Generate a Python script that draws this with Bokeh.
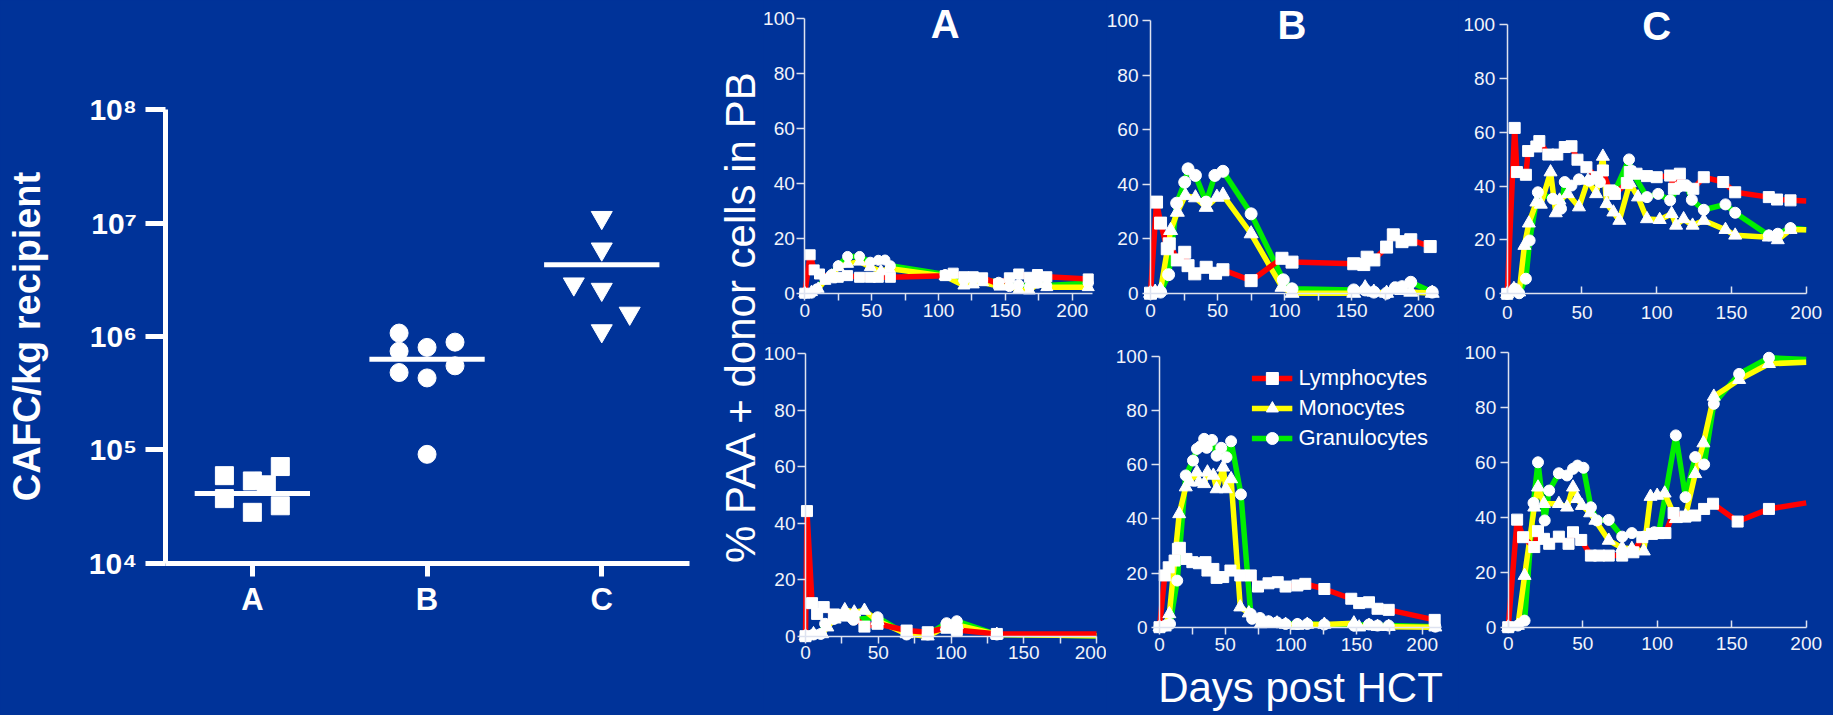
import math
from bokeh.plotting import figure
from bokeh.layouts import row, column
from bokeh.models import (FixedTicker, Label, Legend, LegendItem, Range1d,
                          GlobalInlineStyleSheet)
from bokeh.embed import file_html
from bokeh.resources import INLINE

BG = "#003399"
FONT = "Liberation Sans"
AXC = "#DDE2F0"
TXT = "#F2F4FA"
RED, YEL, GRN = "#FF0000", "#FFFF00", "#00EE00"

# ---------------- left panel data (CAFC/kg recipient) ----------------
groups = ["A", "B", "C"]
cafc_A = [5.9e4, 5.3e4, 4.9e4, 7.1e4, 3.7e4, 2.8e4, 3.2e4]
cafc_B = [1.07e6, 7.4e5, 8.0e5, 8.9e5, 4.8e5, 4.3e5, 5.5e5, 9.1e4]
cafc_C = [1.12e7, 5.9e6, 2.9e6, 2.6e6, 1.6e6, 1.12e6]
cafc_mean = [4.1e4, 6.3e5, 4.3e6]
jitter_A = [-0.16, 0.0, 0.08, 0.16, -0.16, 0.0, 0.16]
jitter_B = [-0.16, -0.16, 0.0, 0.16, -0.16, 0.0, 0.16, 0.0]
jitter_C = [0.0, 0.0, -0.16, 0.0, 0.16, 0.0]
log_ticks = [1e4, 1e5, 1e6, 1e7, 1e8]

# ---------------- chimerism panels data ----------------
# A top
a1_lym_x = [0, 4, 7, 11, 20, 25, 32, 41, 49, 55, 64, 105, 111, 119, 126, 133, 145, 153, 160, 168, 174, 181, 212]
a1_lym_y = [0, 14, 8.5, 7, 5.6, 5.8, 6.4, 5.8, 5.8, 5.8, 5.8, 6.4, 7.3, 6, 6, 5.6, 3.4, 5.6, 7, 5.8, 6.8, 6, 5.2]
a1_mon_x = [0, 5, 10, 15, 20, 25, 32, 41, 49, 57, 63, 105, 119, 126, 133, 146, 153, 160, 168, 174, 181, 212]
a1_mon_y = [0, 0.4, 1.6, 4.5, 6.4, 9.5, 10.7, 11.5, 9.5, 8, 9, 6.2, 2.8, 3.2, 4, 2.4, 2.8, 1.2, 1, 3.4, 2.2, 2.2]
a1_gra_x = [0, 5, 9, 15, 20, 25, 32, 41, 49, 55, 60, 64, 105, 119, 126, 133, 145, 153, 160, 168, 174, 181, 212]
a1_gra_y = [0, 0, 1.6, 5.2, 6.8, 10, 13.4, 13.4, 11.3, 12, 12.1, 10, 6.8, 4.6, 5.2, 4.9, 4, 2.4, 3.2, 2.4, 3.6, 2.8, 3.6]
# B top
b1_lym_x = [0, 4.5, 7.5, 12.5, 14, 20, 25.5, 28, 33, 41.5, 48.5, 54, 75, 98, 105.5, 151.5, 159, 161.5, 166.5, 176, 181, 187.5, 194, 208.5]
b1_lym_y = [0, 33.4, 25.7, 16.3, 18.1, 12.2, 15, 10.1, 7.1, 9.5, 7.3, 8.6, 4.6, 12.8, 11.4, 10.8, 10.5, 13.2, 12.2, 16.9, 21.4, 18.9, 19.6, 17.1]
b1_mon_x = [0, 3.5, 7.5, 15, 20, 26, 33.5, 41.5, 49.5, 54, 75, 98, 105.5, 151.5, 160, 166.5, 176, 181, 187.5, 194, 210]
b1_mon_y = [0, 0.4, 1.2, 23, 29.7, 35.8, 35, 31.5, 35.2, 36, 21.8, 2.2, 0, 0, 2, 0.4, 0, 1.2, 1, 0.4, 0]
b1_gra_x = [0, 7.5, 13.5, 19.5, 25.5, 28, 33.5, 41.5, 48, 54, 75, 99, 105.5, 151.5, 160, 166.5, 176, 182.5, 187.5, 194, 210]
b1_gra_y = [0, 0.4, 6.8, 33, 40.7, 45.6, 43.2, 33.4, 43.2, 44.7, 29.1, 4.9, 1.6, 1.2, 1.2, 0.4, 0, 2, 2.4, 4, 0.4]
# C top
c1_lym_x = [0, 5, 6.5, 12.5, 14, 19.5, 21.5, 27.5, 33.5, 38.5, 43, 47, 53, 60, 64, 68.5, 72, 80, 82, 86.5, 93.5, 100, 109, 111.5, 115.5, 117.5, 124.5, 131.5, 144.5, 152.5, 175, 180.5, 189.5, 200]
c1_lym_y = [0, 61.6, 45.2, 44.2, 53, 54.7, 56.7, 51.7, 51.7, 54.5, 54.8, 49.8, 47, 43.3, 45.8, 38.4, 37.1, 41.1, 45.2, 44.6, 43.7, 43.3, 43.9, 39, 44.6, 40.2, 39, 43.3, 41.5, 37.7, 35.9, 35, 34.7, 34.5]
c1_mon_x = [0, 4.5, 8, 11.5, 14.5, 19.5, 22.5, 29, 32.5, 35, 40.5, 48, 54, 59.5, 64, 66.5, 71, 75, 82, 87.5, 93.5, 102, 110, 113, 118, 124, 131.5, 146, 152.5, 175, 181, 189.5, 200]
c1_mon_y = [0, 1.9, 0.6, 17.9, 26.2, 34, 33.2, 45.2, 30, 34.7, 37.1, 32.2, 42.1, 37.1, 51, 33.4, 30.3, 27.2, 41.1, 35.9, 27.8, 27.5, 29.7, 25.4, 27.8, 25.4, 27.2, 23.8, 21.7, 21, 20, 23.8, 23.8]
c1_gra_x = [0, 5, 8, 12.5, 15, 20.5, 30.5, 36, 38.5, 43, 48, 55, 62, 72, 81.5, 83, 93.5, 101, 109, 114.5, 120, 123.5, 131.5, 146, 152.5, 175, 181, 189.5, 200]
c1_gra_y = [0, 1.9, 0.2, 5.6, 19.8, 37.7, 35.3, 31.6, 41.5, 40.2, 42.5, 42, 41.5, 38.1, 49.9, 45.8, 35.9, 37.1, 34.7, 39.6, 40.2, 34.9, 31.2, 33.2, 30.1, 21.7, 22.3, 24.4, 23.8]
# A bottom
a2_lym_x = [0, 1, 4.5, 8, 12.5, 19.5, 26.5, 33, 40.5, 49.5, 69.5, 84, 97, 104, 131.5, 200]
a2_lym_y = [0, 44.3, 11.7, 7.9, 10.3, 7.7, 7.3, 7, 3.4, 4.4, 2, 1.4, 3, 2.2, 0.8, 0.8]
a2_mon_x = [0, 5.5, 11.5, 15, 20, 27, 33.5, 40.5, 49.5, 69.5, 84, 97, 104, 131.5, 200]
a2_mon_y = [0, 0.8, 0.8, 3.2, 6, 9.3, 8.5, 9.1, 5.5, 0.8, 0, 3.5, 4, 0.6, 0.2]
a2_gra_x = [0, 5.5, 10.5, 13.5, 19.5, 26.5, 33, 49.5, 69.5, 84, 97, 104, 131.5, 200]
a2_gra_y = [0, 0.6, 0.8, 4.4, 6.1, 7.7, 5.8, 6.7, 0.6, 0.6, 4.6, 5.3, 0.6, 0.2]
# B bottom
b2_lym_x = [0, 4, 7, 11.5, 14, 15.5, 20.5, 25, 30, 35, 36.5, 41, 43.5, 48.5, 54, 61.5, 69.5, 75, 83, 90, 96, 105, 111, 125.5, 146, 152, 159.5, 166, 174.5, 209.5]
b2_lym_y = [0, 19.1, 22.1, 24.6, 28.9, 29.3, 25.2, 24, 23.6, 24, 20.9, 21.5, 18.2, 18.5, 20.9, 19.1, 19.1, 15, 16.2, 16.6, 15, 15.4, 16, 14.1, 10.5, 8.9, 9.2, 6.8, 6.4, 2.7]
b2_mon_x = [0, 4, 7.5, 15, 20, 23, 28.5, 30, 34, 36.5, 41, 43.5, 48.5, 50.5, 54.5, 61.5, 68, 77, 83, 89.5, 96, 105, 112.5, 125.5, 148, 152, 159.5, 166, 174.5, 210]
b2_mon_y = [0, 0, 4.9, 41.8, 51.7, 53.5, 57.2, 53.5, 52.9, 57.2, 56, 51, 59, 51, 54.7, 7.4, 5.2, 1.2, 1.5, 1.5, 1, 0.6, 1, 1, 1.5, 0, 0.6, 0.2, 0.2, 0]
b2_gra_x = [0, 4.5, 8, 13.5, 20, 25.5, 28.5, 31, 34, 36, 40, 43.5, 47, 51, 54.5, 62, 69.5, 70.5, 76.5, 83, 89.5, 96, 105, 112.5, 125.5, 148, 159.5, 166, 174.5, 210]
b2_gra_y = [0, 0.6, 1.2, 17.2, 56, 61.5, 65.8, 66.7, 69.5, 66.2, 69.1, 63.3, 66.2, 62.7, 68.6, 49, 4.9, 3.1, 3.4, 2.2, 1.8, 1.2, 1.2, 1.2, 1, 0.6, 1, 0.6, 0.6, 0.2]
# C bottom
c2_lym_x = [0, 6, 10, 17.5, 20, 24, 27.5, 34, 40.5, 43.5, 49, 55.5, 61, 67.5, 76.5, 84, 90, 96.5, 101, 105.5, 111, 119, 125.5, 131.5, 137.5, 154, 175, 200]
c2_lym_y = [0, 39.2, 32.8, 29.2, 35, 32.2, 30.4, 33, 30.4, 34.6, 31.8, 26.1, 26.1, 26.1, 26.1, 27.3, 32.8, 34, 34.3, 34.3, 41.6, 40.3, 40.7, 43.1, 45, 38.5, 43.1, 45.3]
c2_mon_x = [0, 6.5, 11, 17.5, 20, 24, 34, 39.5, 43.5, 46.5, 49.5, 55, 58.5, 67.5, 76.5, 83, 91, 95.5, 100, 105, 112.5, 119, 125.5, 131, 138, 155, 175, 200]
c2_mon_y = [0, 0.6, 18.8, 43.7, 51, 45, 45, 43.7, 51, 46.8, 44.3, 41.6, 38.9, 31.6, 28.9, 28.6, 27.7, 47.6, 48, 48.8, 39.5, 40.5, 55.9, 67.1, 84.1, 90.2, 96, 96.6]
c2_gra_x = [0, 6.5, 11, 17, 20, 24.5, 27.5, 34, 39.5, 43.5, 46.5, 50.5, 55.5, 59.5, 67.5, 76.5, 83, 91, 98, 101, 112.5, 119, 125.5, 131.5, 138, 155, 175, 200]
c2_gra_y = [0, 0.6, 2.4, 45.3, 60.1, 38.9, 49.8, 56.1, 55.3, 57.7, 58.9, 58.1, 43.7, 38.9, 39.1, 33, 34.3, 33, 34.6, 34.3, 69.9, 47.4, 62, 59.3, 81.4, 92.3, 98.2, 97.6]

series_names = ["Lymphocytes", "Monocytes", "Granulocytes"]
y_ticks = [0, 20, 40, 60, 80, 100]
x_major = [0, 50, 100, 150, 200]
x_minor = [25, 75, 125, 175]


def base_fig(**kw):
    p = figure(output_backend="svg", toolbar_location=None,
               background_fill_color=BG, border_fill_color=BG,
               outline_line_color=None, min_border=0, **kw)
    p.grid.visible = False
    return p


XA, XB, XC, XE = 763, 1106, 1458, 1833
YT, YM, YB = 0, 333, 715

# ---------------- left figure (frame = whole canvas, axes pinned) ----------------
LW, LH = XA, YB
lx0, lkx = 164.5, 174.7          # pixel of x=0.5, px per category
ly4, lky = 562.5, 113.3          # pixel of 1e4, px per decade
left = base_fig(width=LW, height=LH,
                x_range=Range1d(0.5 - lx0 / lkx, 0.5 + (LW - lx0) / lkx),
                y_range=Range1d(10 ** (4 - (LH - ly4) / lky), 10 ** (4 + ly4 / lky)),
                y_axis_type="log")
ya = left.yaxis[0]
xa = left.xaxis[0]
ya.fixed_location = 0.5
xa.fixed_location = 1e4
ya.bounds = (1e4, 1e8)
xa.bounds = (0.5, 3.5)
ya.ticker = FixedTicker(ticks=log_ticks, minor_ticks=[])
sup = {4: "\u2074", 5: "\u2075", 6: "\u2076", 7: "\u2077", 8: "\u2078"}
ya.major_label_overrides = {float(t): "10" + sup[int(round(math.log10(t)))] for t in log_ticks}
ya.axis_label = "CAFC/kg recipient"
ya.axis_label_text_font_size = "38px"
ya.axis_label_text_font_style = "bold"
ya.axis_label_text_color = "white"
ya.axis_label_text_font = FONT
ya.axis_label_standoff = 38
ya.major_tick_out = 20
ya.major_tick_in = 0
ya.minor_tick_line_color = None
ya.major_label_standoff = 8
xa.ticker = FixedTicker(ticks=[1, 2, 3], minor_ticks=[])
xa.major_label_overrides = {i + 1: g for i, g in enumerate(groups)}
xa.major_tick_out = 13
xa.major_tick_in = 0
xa.major_label_standoff = 6
for ax in (xa, ya):
    ax.axis_line_color = "white"
    ax.axis_line_width = 5
    ax.major_tick_line_color = "white"
    ax.major_tick_line_width = 5
    ax.major_label_text_color = "white"
    ax.major_label_text_font = FONT
    ax.major_label_text_font_style = "bold"
ya.major_label_text_font_size = "30px"
xa.major_label_text_font_size = "31px"

for gi, (vals, jit, mk, sz) in enumerate([(cafc_A, jitter_A, "square", 18),
                                          (cafc_B, jitter_B, "circle", 18),
                                          (cafc_C, jitter_C, "inverted_triangle", 21)]):
    xs = [gi + 1 + j for j in jit]
    left.scatter(xs, vals, marker=mk, size=sz, fill_color="white", line_color="white")
left.segment(x0=[i + 1 - 0.33 for i in range(3)], y0=cafc_mean,
             x1=[i + 1 + 0.33 for i in range(3)], y1=cafc_mean,
             line_color="white", line_width=5)

left.add_layout(Label(x=0.5 + (740 - lx0) / lkx, y=10 ** (4 + (ly4 - 316) / lky),
                      text="% PAA + donor cells in PB", angle=90, angle_units="deg",
                      text_align="center", text_baseline="middle",
                      text_font_size="42px", text_color="white", text_font=FONT))


# ---------------- right panels (frame = whole canvas, axes pinned at 0) ----------------
def panel(cx0, cx1, ct, cb, x0px, x200px, y0px, y100px, xbound, inward, data, line_end,
          title=None, tpos=None, std=4, ystd=4, legend=False, xlabel=None, msize=11):
    kx = (x200px - x0px) / 200.0
    ky = (y0px - y100px) / 100.0
    p = base_fig(width=cx1 - cx0, height=cb - ct,
                 x_range=Range1d((cx0 - x0px) / kx, (cx1 - x0px) / kx),
                 y_range=Range1d((y0px - cb) / ky, (y0px - ct) / ky))
    xa, ya = p.xaxis[0], p.yaxis[0]
    xa.fixed_location = 0
    ya.fixed_location = 0
    xa.bounds = (0, xbound)
    ya.bounds = (0, 100)
    ya.ticker = FixedTicker(ticks=y_ticks, minor_ticks=[])
    if inward:
        xa.ticker = FixedTicker(ticks=x_major, minor_ticks=[])
        xa.major_tick_in = 7
        xa.major_tick_out = 0
    else:
        xa.ticker = FixedTicker(ticks=x_major, minor_ticks=x_minor)
        xa.major_tick_in = 0
        xa.major_tick_out = 7
        xa.minor_tick_in = 0
        xa.minor_tick_out = 7
    xa.major_label_standoff = std
    ya.major_tick_in = 0
    ya.major_tick_out = 8
    ya.major_label_standoff = ystd
    for ax in (xa, ya):
        ax.axis_line_color = AXC
        ax.axis_line_width = 1.5
        ax.major_tick_line_color = AXC
        ax.major_tick_line_width = 1.5
        ax.minor_tick_line_color = AXC
        ax.minor_tick_line_width = 1.5
        ax.major_label_text_color = TXT
        ax.major_label_text_font = FONT
        ax.major_label_text_font_size = "19px"
    if xlabel:
        xa.axis_label = xlabel
        xa.axis_label_text_font = FONT
        xa.axis_label_text_font_size = "42px"
        xa.axis_label_text_font_style = "normal"
        xa.axis_label_text_color = "white"
        xa.axis_label_standoff = 9

    styles = [(RED, "square", msize), (YEL, "triangle", msize + 2), (GRN, "circle", msize)]
    lines = []
    for (xs, ys), (col, mk, sz) in zip(data, styles):
        lines.append(p.line(xs, ys, line_color=col, line_width=5.5, line_join="round"))
    marks = []
    for (xs, ys), (col, mk, sz) in zip(data, styles):
        mx, my = (xs[:-1], ys[:-1]) if line_end else (xs, ys)
        marks.append(p.scatter(mx, my, marker=mk, size=sz, fill_color="white", line_color="white"))
    # draw order: green under yellow under red, markers on top
    p.renderers = list(reversed(lines)) + list(reversed(marks))
    if title:
        p.add_layout(Label(x=tpos[0], y=tpos[1], text=title, text_align="center",
                           text_baseline="middle", text_font_size="40px",
                           text_font_style="bold", text_color="white", text_font=FONT))
    if legend:
        items = [LegendItem(label=n, renderers=[l, m]) for n, l, m in zip(series_names, lines, marks)]
        lg = Legend(items=items, location="top_right", margin=30, padding=0, spacing=0,
                    glyph_width=41, glyph_height=30, label_height=30, label_standoff=6,
                    background_fill_alpha=0, border_line_color=None,
                    label_text_font_size="22px", label_text_color="white",
                    label_text_font=FONT)
        p.add_layout(lg)
    return p


A1 = panel(XA, XB, YT, YM, 804.3, 1071.7, 292.7, 18.3, 215, False,
           [(a1_lym_x, a1_lym_y), (a1_mon_x, a1_mon_y), (a1_gra_x, a1_gra_y)], False,
           title="A", tpos=(105, 98), std=4, ystd=2, msize=10)
B1 = panel(XB, XC, YT, YM, 1150, 1418.3, 292.7, 20, 215, False,
           [(b1_lym_x, b1_lym_y), (b1_mon_x, b1_mon_y), (b1_gra_x, b1_gra_y)], False,
           title="B", tpos=(105.5, 98.3), std=4, msize=12)
C1 = panel(XC, XE, YT, YM, 1506.7, 1805.7, 293.3, 24, 200, True,
           [(c1_lym_x, c1_lym_y), (c1_mon_x, c1_mon_y), (c1_gra_x, c1_gra_y)], True,
           title="C", tpos=(100, 99.5), std=12, msize=11)
A2 = panel(XA, XB, YM, YB, 805, 1096, 635.7, 353.3, 200, False,
           [(a2_lym_x, a2_lym_y), (a2_mon_x, a2_mon_y), (a2_gra_x, a2_gra_y)], True,
           std=3, ystd=2, msize=11)
B2 = panel(XB, XC, YM, YB, 1159, 1421.7, 626.7, 355.7, 215, False,
           [(b2_lym_x, b2_lym_y), (b2_mon_x, b2_mon_y), (b2_gra_x, b2_gra_y)], False,
           std=4, legend=True, xlabel="Days post HCT", msize=11)
C2 = panel(XC, XE, YM, YB, 1507.7, 1805.7, 626.7, 352.3, 200, True,
           [(c2_lym_x, c2_lym_y), (c2_mon_x, c2_mon_y), (c2_gra_x, c2_gra_y)], True,
           std=10, msize=11)

right = column(row(A1, B1, C1, spacing=0), row(A2, B2, C2, spacing=0), spacing=0)
page = row(left, right, spacing=0)
page.stylesheets = [GlobalInlineStyleSheet(css="html, body { background-color: #003399; overflow: hidden; }")]

open("out.html", "w").write(file_html(page, INLINE))
